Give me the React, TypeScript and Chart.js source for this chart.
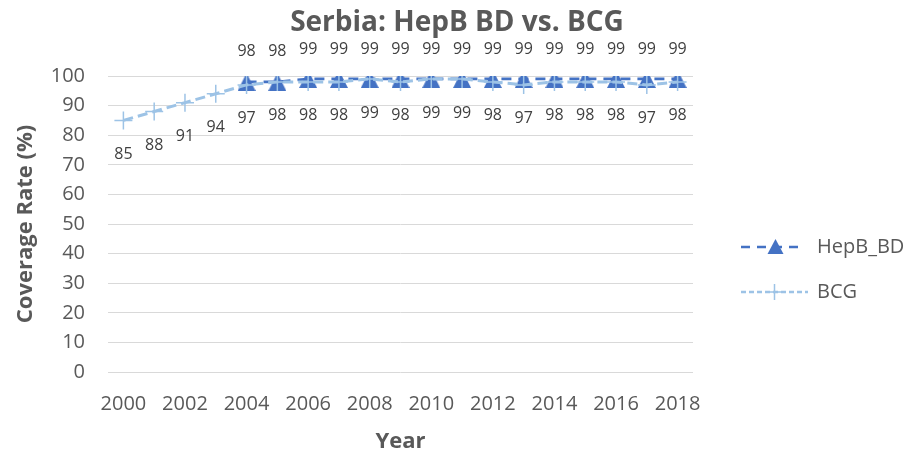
import React, { useEffect, useRef } from "react";
import { Chart, registerables } from "chart.js";

Chart.register(...registerables);

const years = ["2000", "2001", "2002", "2003", "2004", "2005", "2006", "2007", "2008", "2009", "2010", "2011", "2012", "2013", "2014", "2015", "2016", "2017", "2018"];
const hepbBD: (number | null)[] = [null, null, null, null, 98, 98, 99, 99, 99, 99, 99, 99, 99, 99, 99, 99, 99, 99, 99];
const bcg: number[] = [85, 88, 91, 94, 97, 98, 98, 98, 99, 98, 99, 99, 98, 97, 98, 98, 98, 97, 98];
const seriesNames = ["HepB_BD", "BCG"];
const chartTitle = "Serbia: HepB BD vs. BCG";
const xTitle = "Year";
const yTitle = "Coverage Rate (%)";

const HEPB_COLOR = "#4472C4";
const BCG_COLOR = "#9DC3E6";
const TEXT_COLOR = "#595959";
const LABEL_COLOR = "#404040";
const FONT = "'Open Sans', 'DejaVu Sans', sans-serif";

function makeTriangle(w: number, h: number, color: string): HTMLCanvasElement {
  const c = document.createElement("canvas");
  c.width = w;
  c.height = h;
  const g = c.getContext("2d")!;
  g.fillStyle = color;
  g.beginPath();
  g.moveTo(w / 2, 0);
  g.lineTo(w, h);
  g.lineTo(0, h);
  g.closePath();
  g.fill();
  return c;
}

const dataLabelPlugin = {
  id: "dataLabels",
  afterDatasetsDraw(chart: any) {
    const ctx = chart.ctx;
    ctx.save();
    ctx.font = `16px ${FONT}`;
    ctx.fillStyle = LABEL_COLOR;
    ctx.textAlign = "center";
    ctx.textBaseline = "middle";
    chart.data.datasets.forEach((ds: any, di: number) => {
      const meta = chart.getDatasetMeta(di);
      const above = ds.label === seriesNames[0];
      meta.data.forEach((pt: any, i: number) => {
        const v = ds.data[i];
        if (v === null || v === undefined) return;
        const y = above ? pt.y - 30 : pt.y + 34;
        ctx.fillText(String(v), pt.x, y);
      });
    });
    ctx.restore();
  },
};

const legendPlugin = {
  id: "customLegend",
  afterDraw(chart: any) {
    const ctx = chart.ctx;
    ctx.save();
    // title
    ctx.font = `bold 28px ${FONT}`;
    ctx.fillStyle = TEXT_COLOR;
    ctx.textAlign = "center";
    ctx.textBaseline = "middle";
    ctx.fillText(chartTitle, 457, 23);

    const x0 = chart.chartArea.right + 48;
    const x1 = x0 + 63;
    const tx = x0 + 76;
    const y1 = 247;
    const y2 = 292;
    // HepB_BD
    ctx.strokeStyle = HEPB_COLOR;
    ctx.lineWidth = 2.5;
    ctx.setLineDash([9, 7]);
    ctx.beginPath();
    ctx.moveTo(x0, y1);
    ctx.lineTo(x1, y1);
    ctx.stroke();
    ctx.setLineDash([]);
    const cx = (x0 + x1) / 2 + 3;
    ctx.fillStyle = HEPB_COLOR;
    ctx.beginPath();
    ctx.moveTo(cx, y1 - 8);
    ctx.lineTo(cx + 8, y1 + 7);
    ctx.lineTo(cx - 8, y1 + 7);
    ctx.closePath();
    ctx.fill();
    // BCG
    ctx.strokeStyle = BCG_COLOR;
    ctx.lineWidth = 2.5;
    ctx.setLineDash([5, 3]);
    ctx.beginPath();
    ctx.moveTo(x0, y2);
    ctx.lineTo(x1 + 4, y2);
    ctx.stroke();
    ctx.setLineDash([]);
    ctx.lineWidth = 1.5;
    const cx2 = (x0 + x1) / 2 + 2;
    ctx.beginPath();
    ctx.moveTo(cx2 - 8, y2);
    ctx.lineTo(cx2 + 8, y2);
    ctx.moveTo(cx2, y2 - 8);
    ctx.lineTo(cx2, y2 + 8);
    ctx.stroke();
    // texts
    ctx.font = `20px ${FONT}`;
    ctx.fillStyle = TEXT_COLOR;
    ctx.textAlign = "left";
    ctx.textBaseline = "middle";
    ctx.fillText(seriesNames[0], tx, y1);
    ctx.fillText(seriesNames[1], tx, y2);
    ctx.restore();
  },
};

export default function App() {
  const canvasRef = useRef<HTMLCanvasElement | null>(null);

  useEffect(() => {
    if (!canvasRef.current) return;
    const tri = makeTriangle(18, 18, HEPB_COLOR);
    const chart = new Chart(canvasRef.current, {
      type: "line",
      data: {
        labels: years,
        datasets: [
          {
            label: seriesNames[0],
            data: hepbBD,
            borderColor: HEPB_COLOR,
            backgroundColor: HEPB_COLOR,
            borderWidth: 2.75,
            borderDash: [10, 7],
            pointStyle: tri,
            pointRadius: 9,
            spanGaps: false,
            order: 1,
          },
          {
            label: seriesNames[1],
            data: bcg,
            borderColor: BCG_COLOR,
            backgroundColor: BCG_COLOR,
            borderWidth: 3,
            borderDash: [10, 5],
            pointStyle: "cross",
            pointRadius: 9,
            pointBorderWidth: 1.5,
            pointBorderColor: BCG_COLOR,
            order: 0,
          },
        ] as any,
      },
      options: {
        responsive: false,
        animation: false,
        layout: { padding: { left: 0, right: 218, top: 76, bottom: 0 } },
        plugins: {
          legend: { display: false },
          tooltip: { enabled: false },
          title: { display: false },
        },
        scales: {
          x: {
            offset: true,
            grid: { display: false, drawTicks: false },
            border: { display: false },
            ticks: {
              autoSkip: false,
              maxRotation: 0,
              minRotation: 0,
              padding: 20,
              color: TEXT_COLOR,
              font: { family: FONT, size: 20 },
              callback: (_v: any, i: number) => (i % 2 === 0 ? years[i] : ""),
            },
            title: {
              display: true,
              text: xTitle,
              color: TEXT_COLOR,
              font: { family: FONT, size: 22, weight: "bold" },
              padding: { top: 0, bottom: 0 },
            },
            afterFit: (scale: any) => {
              scale.height = 83;
            },
          },
          y: {
            min: 0,
            max: 100,
            grid: { color: "#d9d9d9", lineWidth: 1, drawTicks: false },
            border: { display: false },
            ticks: {
              stepSize: 10,
              padding: 23,
              color: TEXT_COLOR,
              font: { family: FONT, size: 20 },
            },
            title: {
              display: true,
              text: yTitle,
              color: TEXT_COLOR,
              font: { family: FONT, size: 22, weight: "bold" },
              padding: { top: 13, bottom: 0 },
            },
            afterFit: (scale: any) => {
              scale.width = 108;
            },
          },
        },
      } as any,
      plugins: [dataLabelPlugin, legendPlugin],
    });
    return () => chart.destroy();
  }, []);

  return (
    <div style={{ position: "absolute", left: 0, top: 0, width: 911, height: 455, background: "#ffffff" }}>
      <canvas ref={canvasRef} width={911} height={455} style={{ display: "block" }} />
    </div>
  );
}
